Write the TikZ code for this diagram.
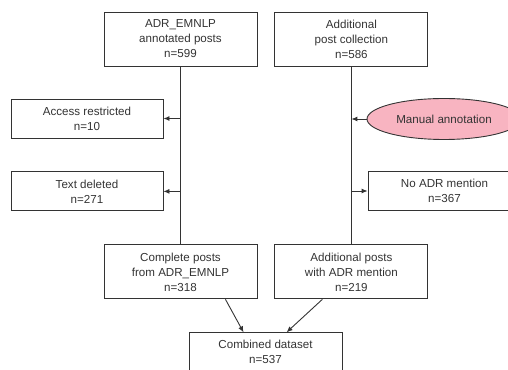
\documentclass[tikz,border=0pt]{standalone}
\usepackage{fontspec}
\setmainfont{Liberation Sans}
\usetikzlibrary{arrows.meta,shapes.geometric,positioning}
\definecolor{edgegray}{HTML}{333333}
\definecolor{notepink}{HTML}{F8B4C1}

\begin{document}
\begin{tikzpicture}[
        x=1pt, y=1pt,
        node distance=17pt and 17pt,
        every node/.style={draw=edgegray, text=edgegray, align=center, inner sep=0pt,
          font=\fontsize{11.6}{15}\selectfont},
        every path/.style={draw=edgegray, line width=0.9pt},
        bigbox/.style={rectangle, minimum width=153pt, minimum height=54pt},
        smallbox/.style={rectangle, minimum width=152pt, minimum height=39pt},
        annot/.style={ellipse, fill=notepink, minimum width=154pt, minimum height=41pt},
        arr/.style={-{Latex[length=6pt,width=5pt]}}
    ]
    \path[use as bounding box, draw=none] (0,0) rectangle (508,369);

    % Nodes
    \node (emnlp) [bigbox] at (180.5,330) {ADR\_EMNLP\\annotated posts\\n=599};
    \node (addcoll) [bigbox, right=of emnlp] {Additional\\post collection\\n=586};

    \node (restr) [smallbox] at (87,250.5) {Access restricted\\n=10};
    \node (deleted) [smallbox, below=33pt of restr] {Text deleted\\n=271};

    \node (manual) [annot] at (444,250) {Manual annotation};
    \node (noadr) [smallbox, minimum width=153pt] at (444.5,178) {No ADR mention\\n=367};

    \node (complete) [bigbox, below=178pt of emnlp] {Complete posts\\from ADR\_EMNLP\\n=318};
    \node (addposts) [bigbox, below=178pt of addcoll] {Additional posts\\with ADR mention\\n=219};

    \node (combined) [smallbox, minimum width=153pt, below=33pt of complete, xshift=85pt] {Combined dataset\\n=537};

    % Junctions on the flow lines
    \coordinate (jrestr) at (emnlp.south |- restr.east);
    \coordinate (jdel) at (emnlp.south |- deleted.east);
    \coordinate (jman) at (addcoll.south |- manual.west);
    \coordinate (jnoadr) at (addcoll.south |- noadr.west);

    % Edges
    \draw (emnlp) -- (complete);
    \draw (addcoll) -- (addposts);
    \draw[arr] (jrestr) -- (restr);
    \draw[arr] (jdel) -- (deleted);
    \draw[arr] (manual) -- (jman);
    \draw[arr] (jnoadr) -- (noadr);
    \draw[arr] ([xshift=-32pt]complete.south east) -- ([xshift=55pt]combined.north west);
    \draw[arr] ([xshift=-106pt]addposts.south east) -- ([xshift=98pt]combined.north west);

\end{tikzpicture}
\end{document}
